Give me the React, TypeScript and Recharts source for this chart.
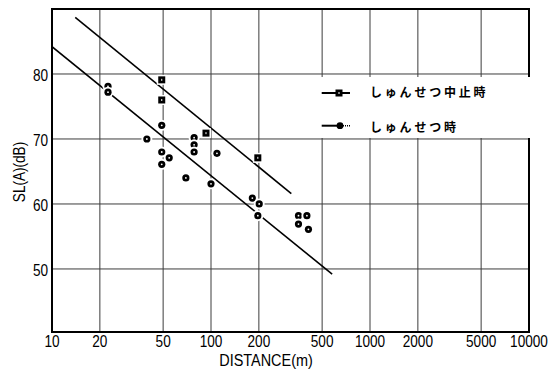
import React from 'react';
import {
  ComposedChart,
  XAxis,
  YAxis,
  CartesianGrid,
  Line,
  Scatter,
  ReferenceArea,
  Legend,
} from 'recharts';

// Sound level SL(A) against distance, dredging stopped vs. dredging in progress
const stoppedDistance = [49, 49, 93, 197];
const stoppedLevel = [79.1, 76.0, 70.9, 67.1];

const dredgingDistance = [
  22.5, 22.5, 39.5, 49, 49, 49, 54.6, 69.5, 78.3, 78.3, 78.3, 100, 109, 182, 201, 197, 355, 401, 355, 410,
];
const dredgingLevel = [
  78.1, 77.2, 70.0, 72.1, 68.0, 66.1, 67.1, 64.0, 70.2, 69.1, 68.0, 63.1, 67.8, 60.9, 60.0, 58.2, 58.2, 58.2, 56.9, 56.1,
];

// Fitted attenuation lines (end points)
const stoppedFitDistance = [14, 320];
const stoppedFitLevel = [88.7, 61.6];
const dredgingFitDistance = [10, 578];
const dredgingFitLevel = [84.2, 49.2];

const xTicks = [10, 20, 50, 100, 200, 500, 1000, 2000, 5000, 10000];
const yTicks = [50, 60, 70, 80];

const legendStopped = 'しゅんせつ中止時';
const legendDredging = 'しゅんせつ時';
const xTitle = 'DISTANCE(m)';
const yTitle = 'SL(A)(dB)';

const zip = (xs: number[], ys: number[]) => xs.map((x, i) => ({ x, y: ys[i] }));

const stoppedPoints = zip(stoppedDistance, stoppedLevel);
const dredgingPoints = zip(dredgingDistance, dredgingLevel);
const stoppedFit = zip(stoppedFitDistance, stoppedFitLevel);
const dredgingFit = zip(dredgingFitDistance, dredgingFitLevel);

const NUM_FONT = '"Liberation Sans", Arial, sans-serif';
const JP_FONT = '"Noto Sans CJK JP", sans-serif';
const NARROW = 0.85; // horizontal squeeze for a condensed look

const CircleMark = (props: any) => {
  const { cx, cy } = props;
  if (cx == null || cy == null) return null;
  return (
    <g>
      <circle cx={cx} cy={cy} r={5.5} fill="#fff" />
      <circle cx={cx} cy={cy} r={3.6} fill="#000" />
      <circle cx={cx} cy={cy} r={0.9} fill="#fff" />
    </g>
  );
};

const SquareMark = (props: any) => {
  const { cx, cy } = props;
  if (cx == null || cy == null) return null;
  return (
    <g>
      <rect x={cx - 5} y={cy - 5} width={10} height={10} fill="#fff" />
      <rect x={cx - 3.5} y={cy - 3.5} width={7} height={7} fill="#000" />
      <rect x={cx - 0.5} y={cy - 1} width={1} height={2} fill="#fff" />
    </g>
  );
};

const XTick = (props: any) => {
  const { x, y, payload } = props;
  return (
    <text
      transform={`translate(${x},${y + 11.7}) scale(${NARROW},1)`}
      textAnchor="middle"
      fontFamily={NUM_FONT}
      fontSize={16}
      fill="#000"
    >
      {payload.value}
    </text>
  );
};

const YTick = (props: any) => {
  const { x, y, payload } = props;
  return (
    <text
      transform={`translate(${x},${y + 7}) scale(${NARROW},1)`}
      textAnchor="end"
      fontFamily={NUM_FONT}
      fontSize={16}
      fill="#000"
    >
      {payload.value}
    </text>
  );
};

const AxisTitle = ({ px, py, rot, size, text }: { px: number; py: number; rot: number; size: number; text: string }) => (
  <text
    transform={`translate(${px},${py}) rotate(${rot}) scale(${NARROW},1)`}
    textAnchor="middle"
    dominantBaseline="central"
    fontFamily={NUM_FONT}
    fontSize={size}
    fill="#000"
  >
    {text}
  </text>
);

const LegendBox = () => (
  <svg width={217} height={61} style={{ display: 'block' }}>
    <line x1={8.7} y1={16} x2={37} y2={16} stroke="#000" strokeWidth={2} />
    <rect x={22.5} y={12.5} width={7} height={7} fill="#000" />
    <rect x={25.5} y={15} width={1} height={2} fill="#fff" />
    <text x={57} y={14} dominantBaseline="central" fontFamily={JP_FONT} fontSize={12} letterSpacing={2.8} fontWeight="bold" fill="#000">
      {legendStopped}
    </text>
    <line x1={8.7} y1={48.7} x2={24} y2={48.7} stroke="#000" strokeWidth={2} />
    <circle cx={27} cy={48.7} r={3.4} fill="#000" />
    <line x1={30} y1={48.7} x2={38} y2={48.7} stroke="#000" strokeWidth={1.5} strokeDasharray="1 1" />
    <text x={57} y={49} dominantBaseline="central" fontFamily={JP_FONT} fontSize={12} letterSpacing={2.8} fontWeight="bold" fill="#000">
      {legendDredging}
    </text>
  </svg>
);

export default function App() {
  return (
    <div style={{ position: 'absolute', left: 0, top: 0, width: 560, height: 371, background: '#fff' }}>
      <ComposedChart width={560} height={371} margin={{ top: 9, right: 31, bottom: 0, left: 0 }}>
        <CartesianGrid stroke="#3c3c3c" strokeWidth={1} />
        <XAxis
          dataKey="x"
          type="number"
          scale="log"
          domain={[10, 10000]}
          ticks={xTicks}
          allowDataOverflow
          height={39}
          tickSize={0}
          tickMargin={3}
          axisLine={{ stroke: '#000', strokeWidth: 2 }}
          tick={<XTick />}
          interval={0}
          label={<AxisTitle px={266} py={360} rot={0} size={17} text={xTitle} />}
        />
        <YAxis
          dataKey="y"
          type="number"
          domain={[40.3, 90]}
          ticks={yTicks}
          allowDataOverflow
          width={52}
          tickSize={0}
          tickMargin={4}
          axisLine={{ stroke: '#000', strokeWidth: 2 }}
          tick={<YTick />}
          label={<AxisTitle px={20} py={172} rot={-90} size={16} text={yTitle} />}
        />
        <ReferenceArea x1={10} x2={10000} y1={40.3} y2={90} fill="none" stroke="#000" strokeWidth={2} />
        <Line data={stoppedFit} dataKey="y" type="linear" stroke="#000" strokeWidth={1.6} dot={false} isAnimationActive={false} />
        <Line data={dredgingFit} dataKey="y" type="linear" stroke="#000" strokeWidth={1.6} dot={false} isAnimationActive={false} />
        <Scatter data={dredgingPoints} dataKey="y" shape={<CircleMark />} isAnimationActive={false} />
        <Scatter data={stoppedPoints} dataKey="y" shape={<SquareMark />} isAnimationActive={false} />
        <Legend
          layout="horizontal"
          verticalAlign="middle"
          content={() => <LegendBox />}
          wrapperStyle={{ position: 'absolute', left: 313, top: 77, width: 217, height: 61, background: '#fff' }}
        />
      </ComposedChart>
    </div>
  );
}
